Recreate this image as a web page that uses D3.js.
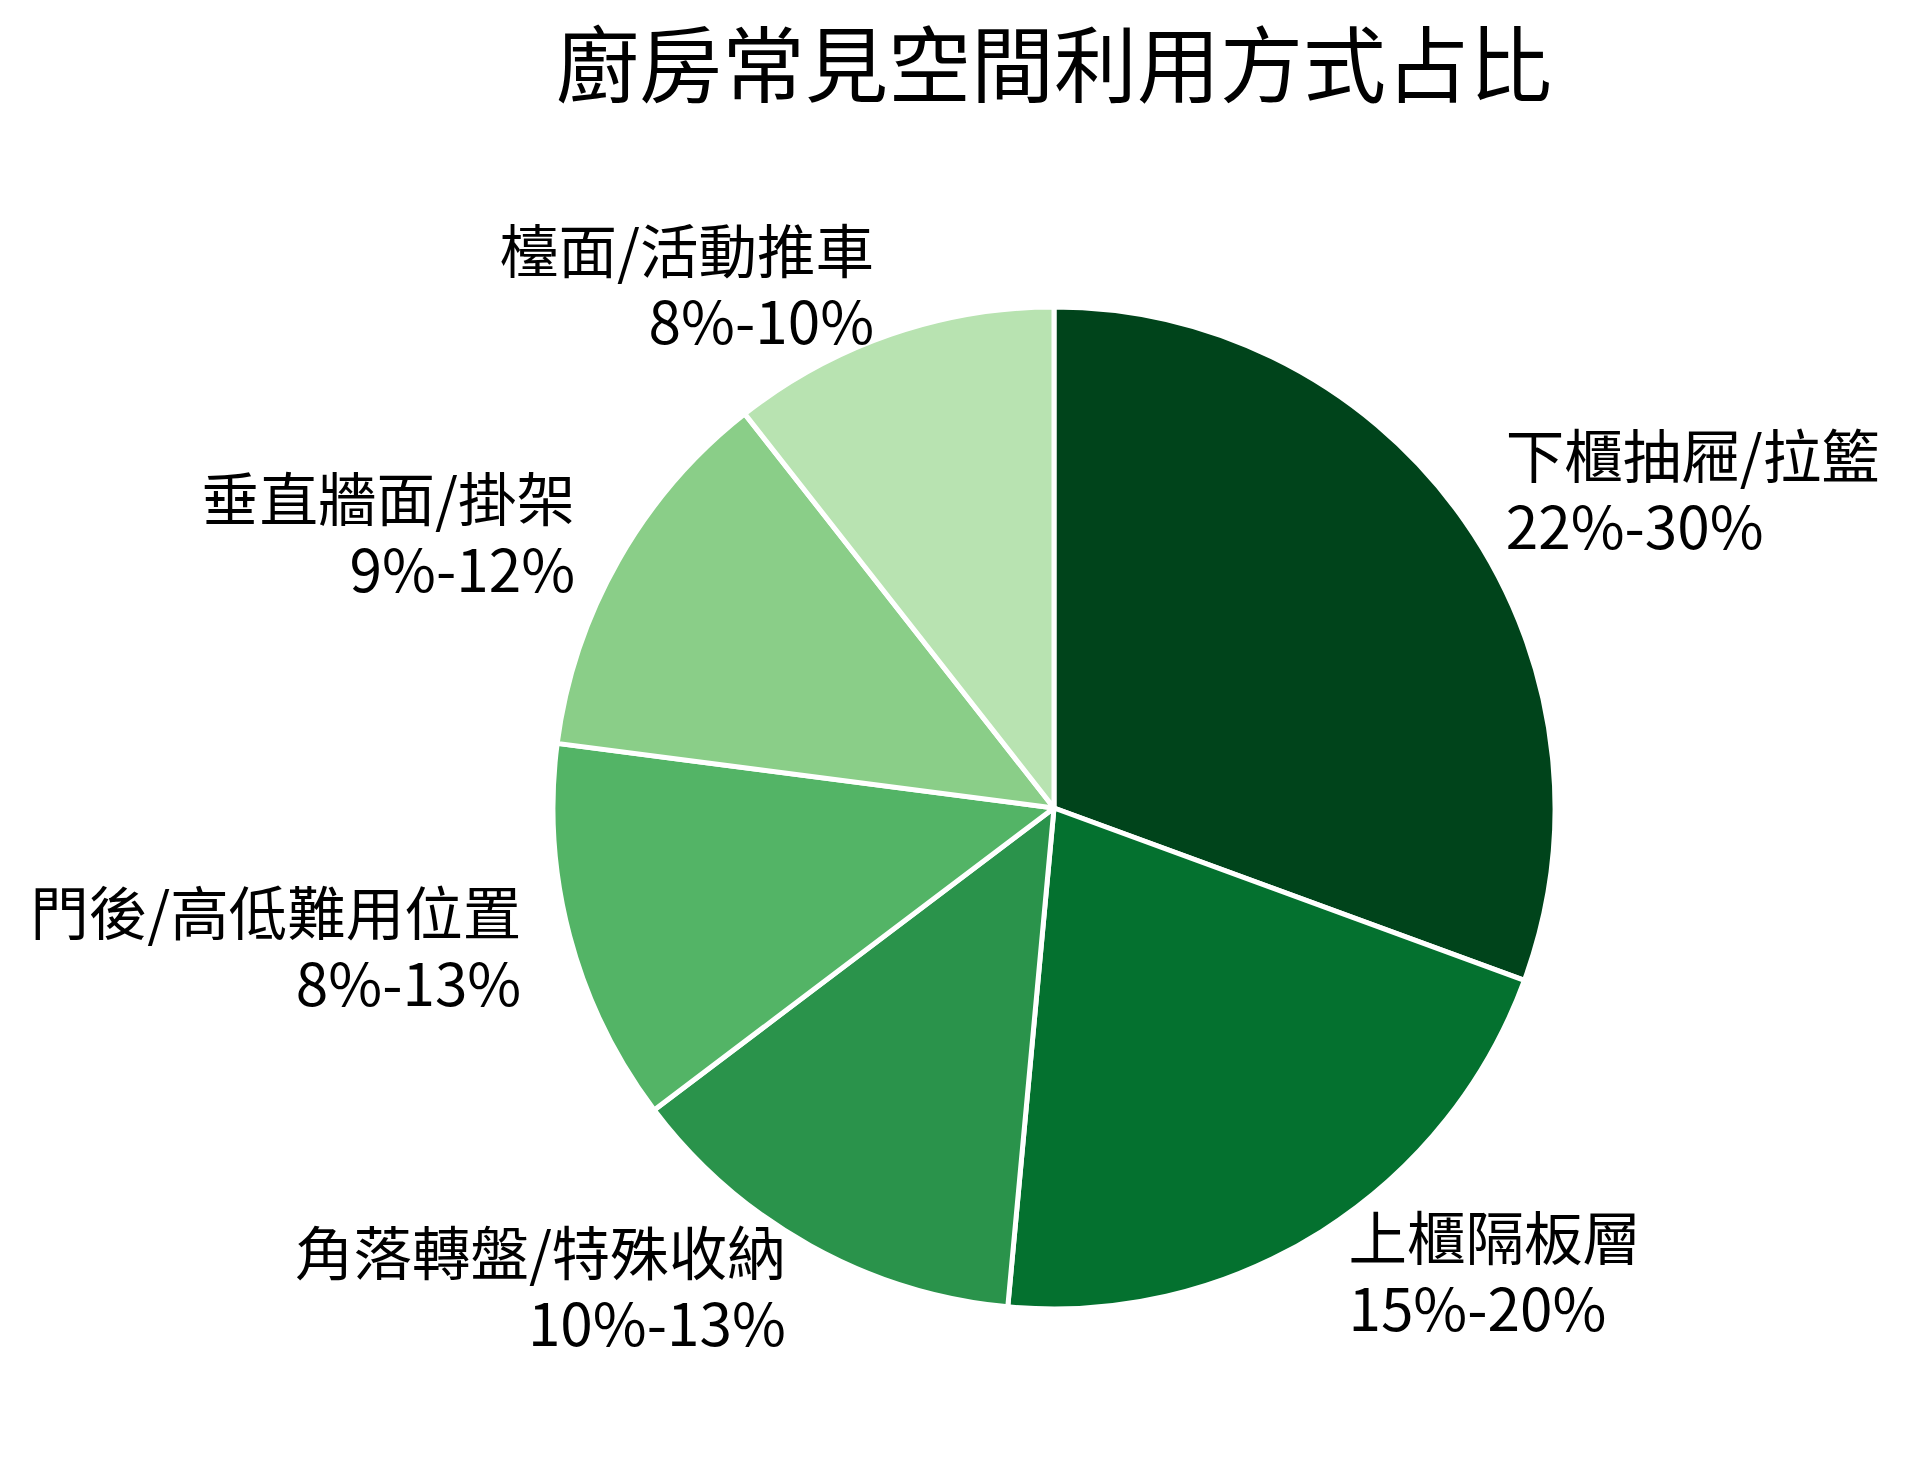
<!DOCTYPE html>
<html>
<head>
<meta charset="utf-8">
<script src="https://cdn.jsdelivr.net/npm/d3@7"></script>
<style>
    body { margin: 0; background: #fff; }
    text { font-family: "Noto Sans CJK TC", "Noto Sans CJK SC", sans-serif; }
</style>
</head>
<body>
<div id="chart-area"></div>
<script>
// data (slice sizes)
var categories = ["下櫃抽屜/拉籃", "上櫃隔板層", "角落轉盤/特殊收納", "門後/高低難用位置", "垂直牆面/掛架", "檯面/活動推車"];
var ranges = ["22%-30%", "15%-20%", "10%-13%", "8%-13%", "9%-12%", "8%-10%"];
var values = [26, 17.75, 11.25, 10.5, 10.5, 9];
var colors = ["#00441b", "#04712f", "#2a934b", "#53b466", "#8ace88", "#b8e3b1"];

var width = 1911;
var height = 1468;
var cx = 1054;
var cy = 808;
var radius = 501;

var svg = d3.select("#chart-area").append("svg")
    .attr("width", width)
    .attr("height", height);

// title
svg.append("text")
    .attr("x", cx)
    .attr("y", 96)
    .attr("font-size", "83px")
    .attr("text-anchor", "middle")
    .attr("fill", "#000")
    .text("廚房常見空間利用方式占比");

var g = svg.append("g")
    .attr("transform", "translate(" + cx + ", " + cy + ")");

var pie = d3.pie()
    .sort(null)
    .value((d) => d);

var arc = d3.arc()
    .innerRadius(0)
    .outerRadius(radius);

var slices = pie(values);

g.selectAll("path")
    .data(slices)
    .enter()
    .append("path")
    .attr("d", arc)
    .attr("fill", (d, i) => colors[i])
    .attr("stroke", "#fff")
    .attr("stroke-width", 5)
    .attr("stroke-linejoin", "round");

// labels at 1.1 x radius, left or right aligned like matplotlib
var labelR = radius * 1.1;
var labels = g.selectAll(".slice-label")
    .data(slices)
    .enter()
    .append("text")
    .attr("class", "slice-label")
    .attr("font-size", "58.5px")
    .attr("fill", "#000")
    .attr("text-anchor", (d) => {
        var a = (d.startAngle + d.endAngle) / 2;
        return Math.sin(a) > 0 ? "start" : "end";
    });

labels.each(function (d, i) {
    var a = (d.startAngle + d.endAngle) / 2;
    var x = labelR * Math.sin(a);
    var y = -labelR * Math.cos(a);
    var t = d3.select(this);
    t.append("tspan")
        .attr("x", x)
        .attr("y", y - 14)
        .text(categories[i]);
    t.append("tspan")
        .attr("x", x)
        .attr("y", y + 57)
        .text(ranges[i]);
});
</script>
</body>
</html>
